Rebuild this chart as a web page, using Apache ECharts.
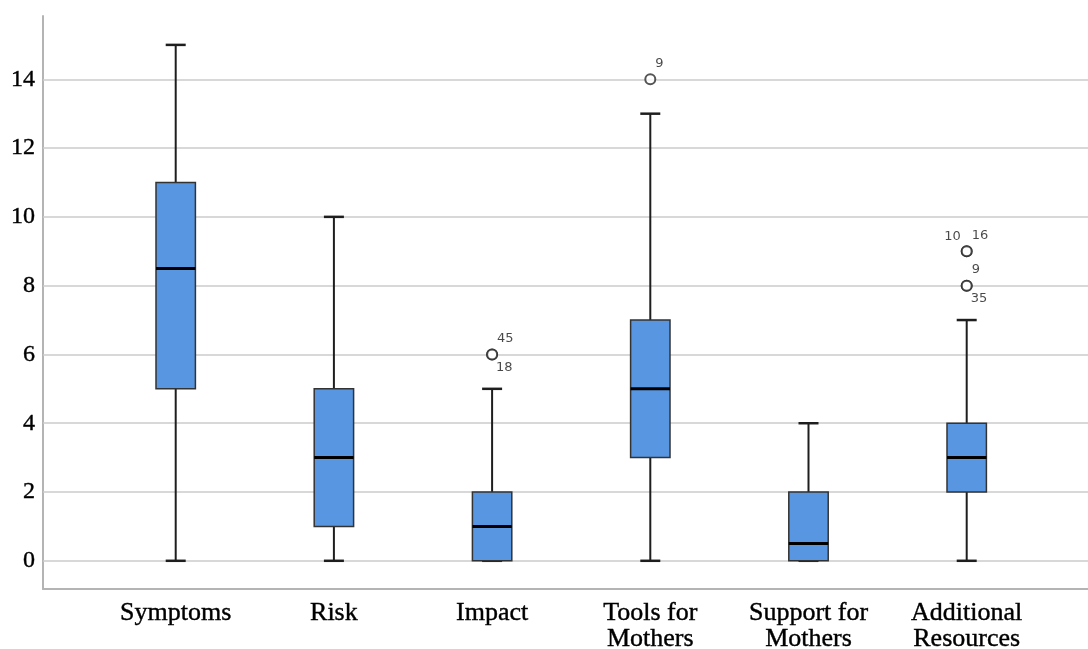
<!DOCTYPE html>
<html>
<head>
<meta charset="utf-8">
<script src="https://cdn.jsdelivr.net/npm/echarts@6/dist/echarts.min.js"></script>
<style>html,body{margin:0;padding:0;background:#fff;}#c{width:1088px;height:649px;}</style>
</head>
<body>
<div id="c"></div>
<script>
const categories = ['Symptoms', 'Risk', 'Impact', 'Tools for\nMothers', 'Support for\nMothers', 'Additional\nResources'];
const whiskerLow  = [0, 0, 0, 0, 0, 0];
const q1          = [5, 1, 0, 3, 0, 2];
const median      = [8.5, 3, 1, 5, 0.5, 3];
const q3          = [11, 5, 2, 7, 2, 4];
const whiskerHigh = [15, 10, 5, 13, 4, 7];

const outlierCat = [2, 3, 5, 5];
const outlierVal = [6, 14, 9, 8];
const outlierIdUpperRight = ['45', '9', '16', '9'];
const outlierIdLowerRight = ['18', '', '', '35'];
const outlierIdUpperLeft  = ['', '', '10', ''];

const yTicks = [0, 2, 4, 6, 8, 10, 12, 14];

const Y_MIN = -0.82, Y_MAX = 15.84;

const boxData = categories.map((c, i) => [i, whiskerLow[i], q1[i], median[i], q3[i], whiskerHigh[i]]);

const labelFont = { fontFamily: 'DejaVu Sans', fontSize: 13, color: '#1a1a1a' };
const outlierItems = [];
outlierCat.forEach((c, i) => {
  const base = { value: [c, outlierVal[i]] };
  if (outlierIdUpperRight[i]) outlierItems.push(Object.assign({}, base, { label: Object.assign({ show: true, formatter: outlierIdUpperRight[i], position: [11, -10], align: 'left', verticalAlign: 'middle' }, labelFont) }));
  if (outlierIdLowerRight[i]) outlierItems.push(Object.assign({}, base, { label: Object.assign({ show: true, formatter: outlierIdLowerRight[i], position: [10, 19], align: 'left', verticalAlign: 'middle' }, labelFont) }));
  if (outlierIdUpperLeft[i]) outlierItems.push(Object.assign({}, base, { label: Object.assign({ show: true, formatter: outlierIdUpperLeft[i], position: [0, -9], align: 'right', verticalAlign: 'middle' }, labelFont) }));
});

const chart = echarts.init(document.getElementById('c'), null, { renderer: 'canvas' });
chart.setOption({
  animation: false,
  backgroundColor: '#ffffff',
  grid: [
    { left: 43, right: 0, top: 16, bottom: 60, containLabel: false, outerBoundsMode: 'none' },
    { left: 96.6, right: 42.2, top: 16, bottom: 60, containLabel: false, outerBoundsMode: 'none' }
  ],
  xAxis: [
    { gridIndex: 0, type: 'value', min: 0, max: 1,
      axisLine: { show: true, onZero: false, lineStyle: { color: '#b4b4b4', width: 2 } },
      axisTick: { show: false }, axisLabel: { show: false }, splitLine: { show: false } },
    { gridIndex: 1, type: 'category', data: categories, boundaryGap: true,
      axisLine: { show: false }, axisTick: { show: false }, splitLine: { show: false },
      axisLabel: { fontFamily: 'Liberation Serif', fontSize: 26, lineHeight: 26, color: '#000', margin: 11, interval: 0,
                   textBorderColor: '#000', textBorderWidth: 0.4 } }
  ],
  yAxis: [
    { gridIndex: 0, type: 'value', min: Y_MIN, max: Y_MAX,
      axisLine: { show: true, onZero: false, lineStyle: { color: '#b4b4b4', width: 2 } },
      axisTick: { show: false }, axisLabel: { show: false }, splitLine: { show: false } },
    { gridIndex: 1, type: 'value', min: Y_MIN, max: Y_MAX, show: false, splitLine: { show: false } }
  ],
  series: [
    { type: 'line', xAxisIndex: 0, yAxisIndex: 0, data: [], z: 1, silent: true,
      markLine: {
        silent: true, symbol: ['none', 'none'],
        lineStyle: { color: '#cbcbcb', width: 1.5, type: 'solid' },
        label: { show: true, position: 'start', distance: 8, formatter: p => String(p.value),
                 fontFamily: 'Liberation Serif', fontSize: 24, color: '#000',
                 textBorderColor: '#000', textBorderWidth: 0.4 },
        emphasis: { disabled: true },
        data: yTicks.map(v => ({ yAxis: v }))
      } },
    { type: 'custom', xAxisIndex: 1, yAxisIndex: 1, z: 5, data: boxData,
      renderItem: function (params, api) {
        const i = api.value(0);
        const pLo = api.coord([i, api.value(1)]);
        const pQ1 = api.coord([i, api.value(2)]);
        const pMed = api.coord([i, api.value(3)]);
        const pQ3 = api.coord([i, api.value(4)]);
        const pHi = api.coord([i, api.value(5)]);
        const cx = pLo[0], hw = 19.7, cw = 10;
        const ws = { stroke: '#1e1e1e', lineWidth: 2 };
        return { type: 'group', children: [
          { type: 'line', shape: { x1: cx, y1: pHi[1], x2: cx, y2: pQ3[1] }, style: ws },
          { type: 'line', shape: { x1: cx, y1: pQ1[1], x2: cx, y2: pLo[1] }, style: ws },
          { type: 'line', shape: { x1: cx - cw, y1: pHi[1], x2: cx + cw, y2: pHi[1] }, style: { stroke: '#1e1e1e', lineWidth: 2.5 } },
          { type: 'line', shape: { x1: cx - cw, y1: pLo[1], x2: cx + cw, y2: pLo[1] }, style: { stroke: '#1e1e1e', lineWidth: 2.5 } },
          { type: 'rect', shape: { x: cx - hw, y: pQ3[1], width: hw * 2, height: pQ1[1] - pQ3[1] },
            style: { fill: '#5896e2', stroke: '#333333', lineWidth: 1.5 } },
          { type: 'line', shape: { x1: cx - hw, y1: pMed[1], x2: cx + hw, y2: pMed[1] }, style: { stroke: '#000', lineWidth: 3 } }
        ] };
      } },
    { type: 'scatter', xAxisIndex: 1, yAxisIndex: 1, z: 6, symbol: 'circle', symbolSize: 10,
      itemStyle: { color: '#ffffff', borderColor: '#2a2a2a', borderWidth: 2 },
      data: outlierItems }
  ]
});
</script>
</body>
</html>
